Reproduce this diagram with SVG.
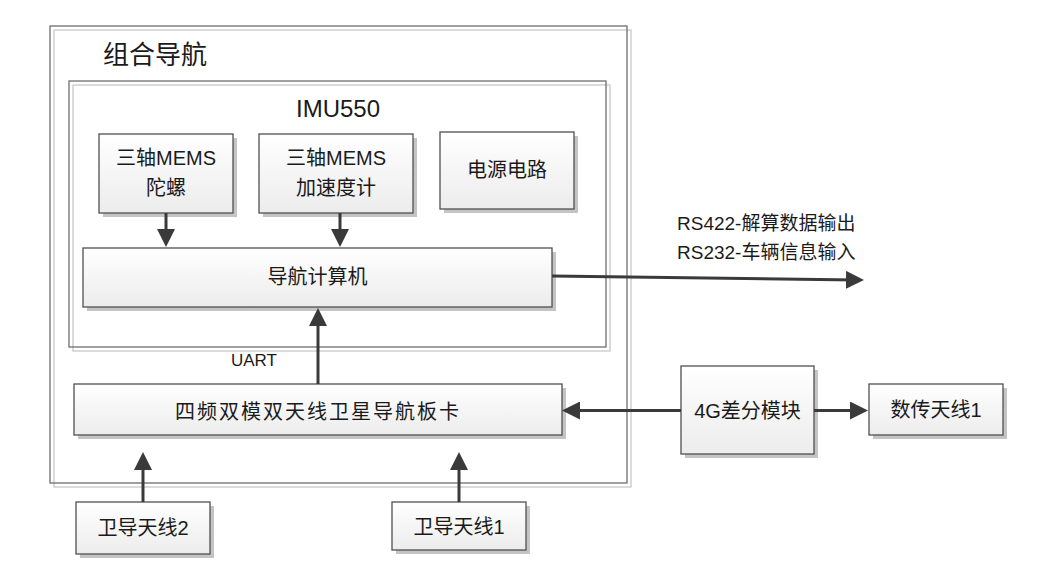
<svg xmlns="http://www.w3.org/2000/svg" width="1049" height="585" viewBox="0 0 1049 585">
<defs>
<linearGradient id="g" x1="0" y1="0" x2="0" y2="1">
<stop offset="0" stop-color="#ffffff"/>
<stop offset="1" stop-color="#ececec"/>
</linearGradient>
<marker id="ah" viewBox="0 0 18 18" refX="10" refY="9" markerWidth="18" markerHeight="18" markerUnits="userSpaceOnUse" orient="auto">
<path d="M0,0 L18,9 L0,18 Z" fill="#3a3a3a"/>
</marker>
</defs>
<style>
.frame{fill:#ffffff;stroke:#6e6e6e;stroke-width:1.3}
.fsh{fill:none;stroke:#c8c8c8;stroke-width:1.3}
.box{fill:url(#g);stroke:#505050;stroke-width:1.3}
.sh{fill:#c4c4c4}
.t{font-family:"Liberation Sans","Noto Sans CJK SC",sans-serif;font-size:20px;fill:#1a1a1a;text-anchor:middle}
.c{stroke:#3a3a3a;stroke-width:3;fill:none;marker-end:url(#ah)}
</style>
<rect width="1049" height="585" fill="#ffffff"/>
<g id="frame-outer">
<rect class="fsh" x="54" y="30" width="577" height="457"/>
<rect class="frame" x="50" y="26" width="577" height="457" fill-opacity="0"/>
<text class="t" x="103" y="64" style="font-size:26px;text-anchor:start">组合导航</text>
</g>
<g id="frame-imu">
<rect class="fsh" x="73" y="85" width="537" height="266"/>
<rect class="frame" x="69" y="81" width="537" height="266" fill-opacity="0"/>
<text class="t" x="338" y="117" style="font-size:24px">IMU550</text>
</g>
<g id="gyro">
<rect class="sh" x="103" y="138" width="134" height="79"/>
<rect class="box" x="99" y="134" width="134" height="79"/>
<text class="t" x="166" y="165">三轴MEMS</text>
<text class="t" x="166" y="195">陀螺</text>
</g>
<g id="accel">
<rect class="sh" x="263" y="138" width="154" height="79"/>
<rect class="box" x="259" y="134" width="154" height="79"/>
<text class="t" x="336" y="165">三轴MEMS</text>
<text class="t" x="336" y="195">加速度计</text>
</g>
<g id="power">
<rect class="sh" x="444" y="136" width="134" height="77"/>
<rect class="box" x="440" y="132" width="134" height="77"/>
<text class="t" x="507" y="177">电源电路</text>
</g>
<g id="navcomp">
<rect class="sh" x="87" y="252" width="469" height="59"/>
<rect class="box" x="83" y="248" width="469" height="59"/>
<text class="t" x="317.5" y="284">导航计算机</text>
</g>
<g id="gnss">
<rect class="sh" x="78" y="388" width="488" height="51"/>
<rect class="box" x="74" y="384" width="488" height="51"/>
<text class="t" x="318" y="419" style="letter-spacing:2px">四频双模双天线卫星导航板卡</text>
</g>
<g id="ant2">
<rect class="sh" x="80" y="506" width="134" height="52"/>
<rect class="box" x="76" y="502" width="134" height="52"/>
<text class="t" x="143" y="535">卫导天线2</text>
</g>
<g id="ant1">
<rect class="sh" x="396" y="506" width="134" height="48"/>
<rect class="box" x="392" y="502" width="134" height="48"/>
<text class="t" x="459" y="534">卫导天线1</text>
</g>
<g id="diff4g">
<rect class="sh" x="685" y="370" width="133" height="88"/>
<rect class="box" x="681" y="366" width="133" height="88"/>
<text class="t" x="747.5" y="418">4G差分模块</text>
</g>
<g id="dtant">
<rect class="sh" x="873" y="388" width="134" height="51"/>
<rect class="box" x="869" y="384" width="134" height="51"/>
<text class="t" x="936" y="417">数传天线1</text>
</g>
<g id="labels">
<text class="t" x="231" y="366" style="font-size:17px;text-anchor:start">UART</text>
<text class="t" x="677" y="230" style="font-size:19px;text-anchor:start">RS422-解算数据输出</text>
<text class="t" x="677" y="259" style="font-size:19px;text-anchor:start">RS232-车辆信息输入</text>
</g>
<g id="connectors">
<line class="c" x1="166" y1="213" x2="166" y2="239"/>
<line class="c" x1="340" y1="213" x2="340" y2="239"/>
<line class="c" x1="318" y1="384" x2="318" y2="316"/>
<line class="c" x1="552" y1="276" x2="856" y2="280"/>
<line class="c" x1="681" y1="410.5" x2="570" y2="410.5"/>
<line class="c" x1="814" y1="410.5" x2="860" y2="410.5"/>
<line class="c" x1="143" y1="502" x2="143" y2="460"/>
<line class="c" x1="459" y1="502" x2="459" y2="460"/>
</g>
</svg>
